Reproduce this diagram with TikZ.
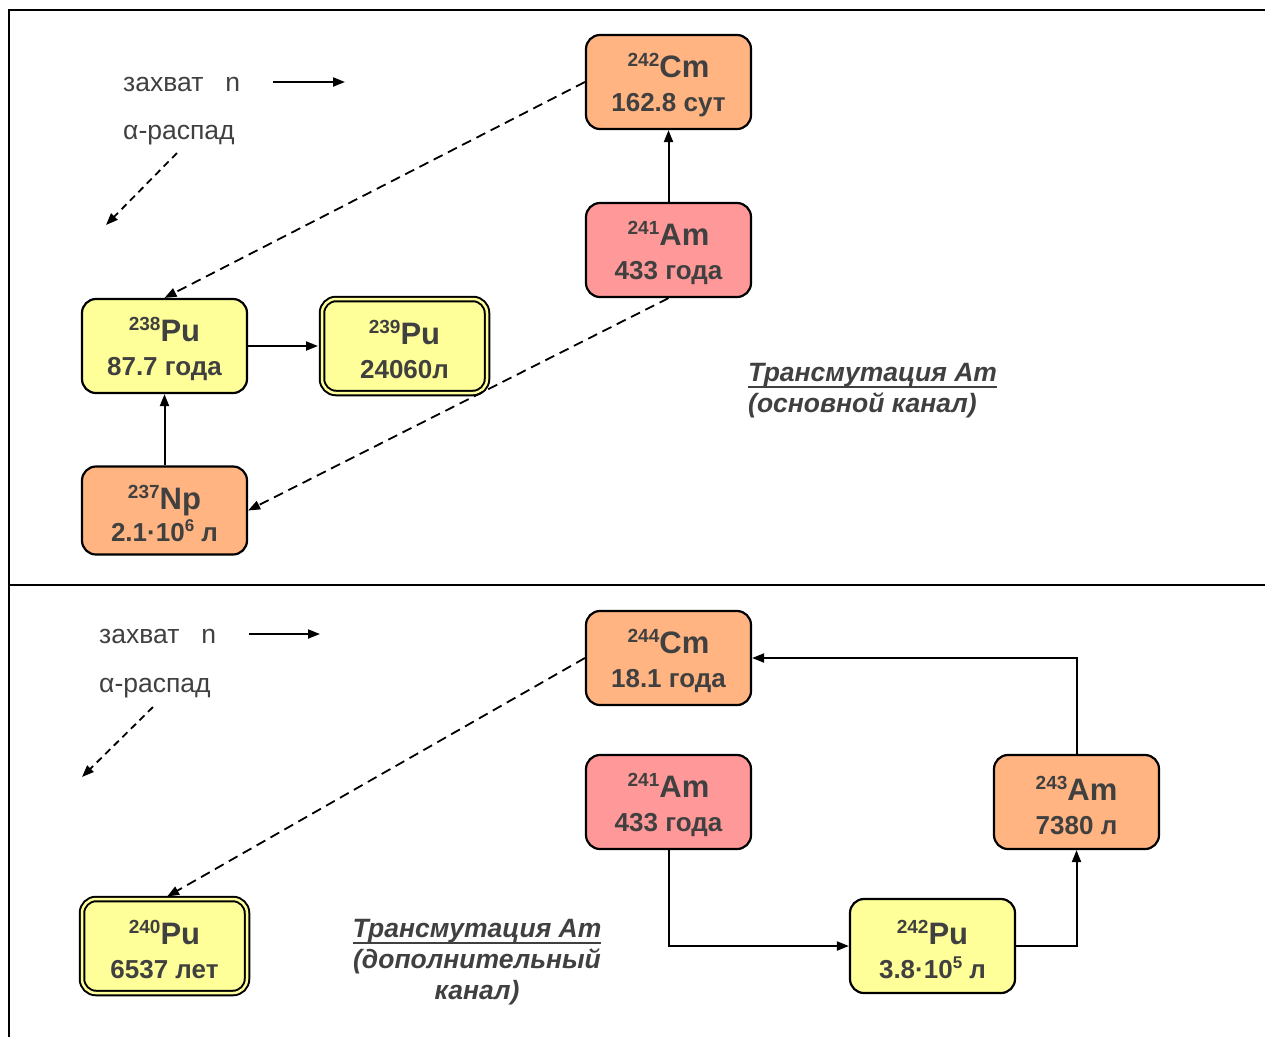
\documentclass[tikz,border=0pt]{standalone}
\usepackage{fontspec}
\setmainfont{Liberation Sans}
\usetikzlibrary{arrows.meta}

\definecolor{txtgray}{HTML}{404040}
\definecolor{pufill}{HTML}{FFFF99}
\definecolor{orfill}{HTML}{FFB482}
\definecolor{amfill}{HTML}{FF9999}

% isotope symbol: mass number raised before the element (strut pushes the block down a little)
\newcommand{\iso}[2]{\rule{0pt}{31pt}\raisebox{11pt}{\fontsize{19}{19}\selectfont #1}{\fontsize{31}{31}\selectfont #2}}
% small raised exponent
\newcommand{\expo}[1]{\raisebox{10pt}{\fontsize{17}{17}\selectfont #1}}
% thick underline placed a little below the baseline
\newcommand{\thickul}[1]{\setbox0\hbox{#1}\rlap{\rule[-6.5pt]{\wd0}{2pt}}\box0}

\begin{document}
\begin{tikzpicture}[x=1pt,y=-1pt,
  nuc/.style={draw=black, line width=2.2pt, rounded corners=14pt,
    minimum width=165pt, minimum height=94pt, inner sep=0pt, align=center,
    text=txtgray, font=\bfseries\fontsize{26}{34}\selectfont},
  dbl/.style={nuc, line width=2pt, double=pufill, double distance=2.5pt, fill=pufill},
  conn/.style={line width=2pt, -{Triangle[length=12pt,width=9pt]}},
  decay/.style={conn, line width=1.8pt, dash pattern=on 10pt off 6pt},
  legdecay/.style={conn, line width=1.8pt, dash pattern=on 7pt off 5pt},
  legend/.style={text=txtgray, font=\fontsize{26.5}{26.5}\selectfont, inner sep=0pt},
  caption/.style={text=txtgray, font=\bfseries\itshape\fontsize{26.5}{31}\selectfont, inner sep=0pt},
  frame/.style={line width=2pt}
]
\useasboundingbox (0,0) rectangle (1265,1037);

% frame and divider
\draw[frame] (1265,10) -- (9,10) -- (9,1037);
\draw[frame] (9,585) -- (1265,585);

% ---------- main channel ----------
\node[nuc, fill=orfill] (cmA) at (668.5,82) {\iso{242}{Cm}\\162.8 сут};
\node[nuc, fill=amfill] (amA) at (668.5,250) {\iso{241}{Am}\\433 года};
\node[nuc, fill=pufill] (puA) at (164.5,346) {\iso{238}{Pu}\\87.7 года};
\node[dbl] (puB) at (404.5,346) {\iso{239}{Pu}\\24060л};
\node[nuc, fill=orfill, minimum height=88pt] (npA) at (164.5,510.5) {\iso{237}{Np}\\[-2pt]2.1·10\expo{6} л};

\draw[conn] (amA.north) -- (cmA.south);
\draw[conn, shorten >=3pt] (puA.east) -- (puB.west);
\draw[conn] (npA.north) -- (puA.south);
\draw[decay] (cmA.west) -- (puA.north);
\draw[decay] (amA.south) -- (npA.east);

% legend
\node[legend, anchor=base west] (capA) at (123,91) {захват\hspace{22pt}n};
\node[legend, anchor=base west] (alA) at (123,139) {α-распад};
\coordinate (capAs) at (273,82);
\coordinate (capAe) at (345,82);
\coordinate (alAs) at (177,153);
\coordinate (alAe) at (106,225);
\draw[conn] (capAs) -- (capAe);
\draw[legdecay] (alAs) -- (alAe);

\node[caption, anchor=base west, align=left] (ttlA) at (748,412)
  {\thickul{Трансмутация Am}\\(основной канал)};

% ---------- additional channel ----------
\node[nuc, fill=orfill] (cmB) at (668.5,658) {\iso{244}{Cm}\\18.1 года};
\node[nuc, fill=amfill] (amB) at (668.5,802) {\iso{241}{Am}\\433 года};
\node[nuc, fill=orfill] (amC) at (1076.5,802) {\iso{243}{Am}\\7380 л};
\node[nuc, fill=pufill] (puC) at (932.5,946) {\iso{242}{Pu}\\3.8·10\expo{5} л};
\node[dbl] (puD) at (164.5,946) {\iso{240}{Pu}\\6537 лет};

\draw[conn] (amB.south) |- (puC.west);
\draw[conn] (puC.east) -| (amC.south);
\draw[conn] (amC.north) |- (cmB.east);
\draw[decay, shorten >=3pt] (cmB.west) -- (puD.north);

% legend
\node[legend, anchor=base west] (capB) at (99,643) {захват\hspace{22pt}n};
\node[legend, anchor=base west] (alB) at (99,692) {α-распад};
\coordinate (capBs) at (249,634);
\coordinate (capBe) at (320,634);
\coordinate (alBs) at (153,707);
\coordinate (alBe) at (82,777);
\draw[conn] (capBs) -- (capBe);
\draw[legdecay] (alBs) -- (alBe);

\node[caption, anchor=base, align=center] (ttlB) at (477,999)
  {\thickul{Трансмутация Am}\\(дополнительный\\канал)};
\end{tikzpicture}
\end{document}
